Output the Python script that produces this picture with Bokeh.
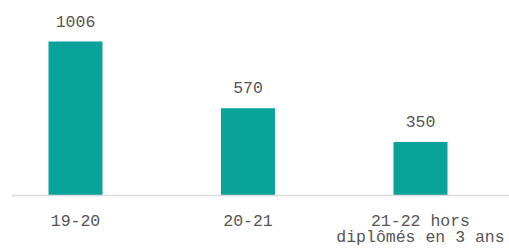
from bokeh.plotting import figure
from bokeh.models import Range1d, FixedTicker, ColumnDataSource, LabelSet
from bokeh.core.properties import value
from bokeh.embed import file_html
from bokeh.resources import INLINE

categories = ["19-20", "20-21", "21-22 hors\ndiplômés en 3 ans"]
values = [1006, 570, 350]
value_labels = [str(v) for v in values]
positions = list(range(len(categories)))

FONT = "Liberation Mono"
TEXT_COLOR = "#555555"
BAR_COLOR = "#0aa39a"

src = ColumnDataSource(dict(x=positions, top=values, label=value_labels))

p = figure(width=509, height=250, output_backend="svg", toolbar_location=None,
           x_range=Range1d(-0.371, 2.516), y_range=Range1d(0, 1222),
           min_border_left=11, min_border_right=0, min_border_top=8, min_border_bottom=55)

p.vbar(x="x", top="top", width=0.313, bottom=0, source=src, color=BAR_COLOR, line_color=None)

labels = LabelSet(x="x", y="top", text="label", source=src, text_align="center",
                  text_baseline="alphabetic", y_offset=15, text_font=value(FONT),
                  text_font_size=value("16.5px"), text_color=TEXT_COLOR)
p.add_layout(labels)

p.xaxis.ticker = FixedTicker(ticks=positions)
p.xaxis.major_label_overrides = {i: c for i, c in zip(positions, categories)}
p.xaxis.major_tick_line_color = None
p.xaxis.minor_tick_line_color = None
p.xaxis.axis_line_color = "#d9d9d9"
p.xaxis.axis_line_width = 1.5
p.xaxis.major_label_text_font = FONT
p.xaxis.major_label_text_font_size = "16.5px"
p.xaxis.major_label_text_color = TEXT_COLOR
p.xaxis.major_label_text_line_height = 0.85
p.xaxis.major_label_standoff = 10

p.yaxis.visible = False
p.xgrid.visible = False
p.ygrid.visible = False
p.outline_line_color = None

open("out.html", "w").write(file_html(p, INLINE))
